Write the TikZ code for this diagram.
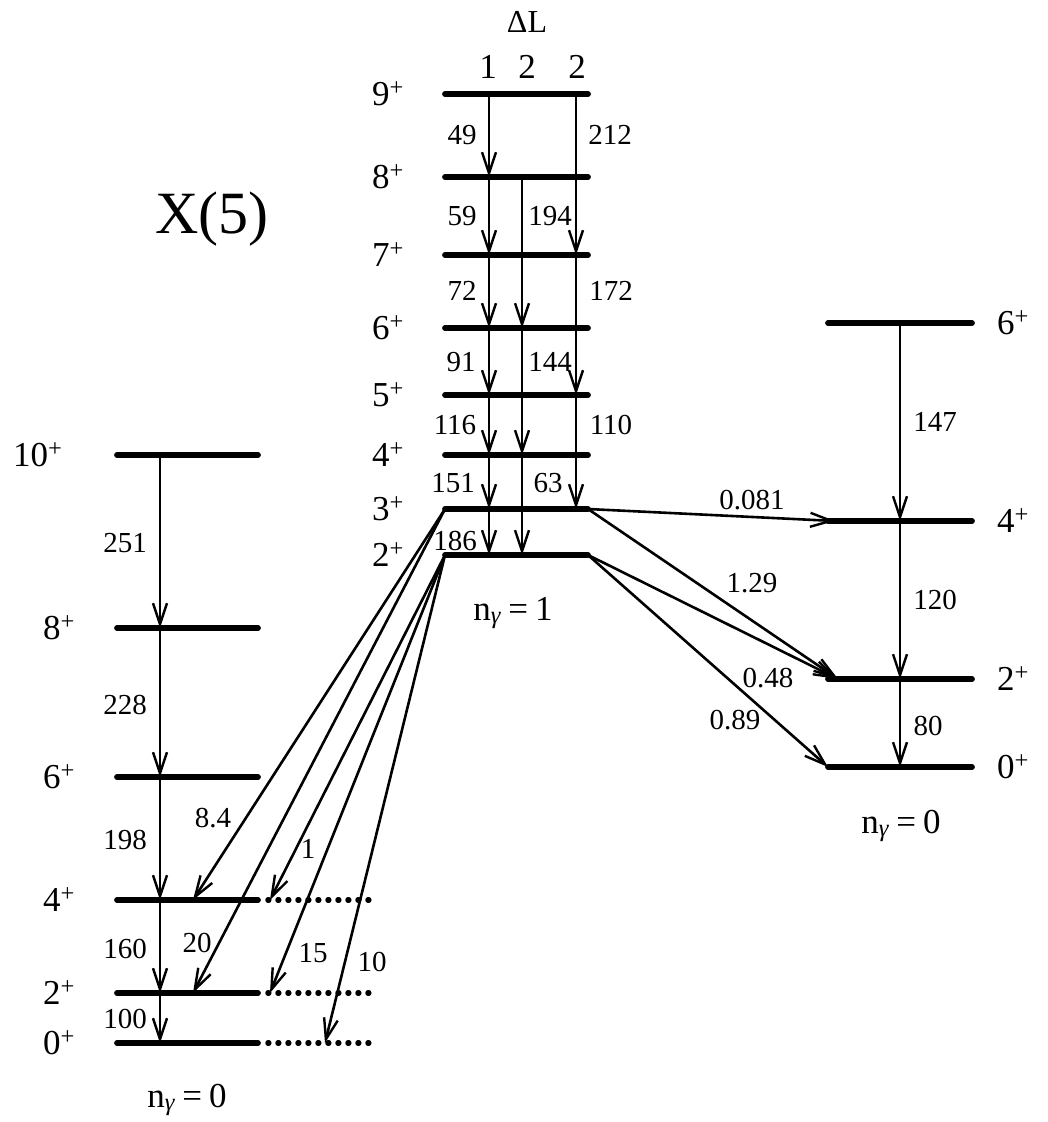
\documentclass[tikz,border=0pt]{standalone}
\usepackage{fontspec}
\setmainfont{Liberation Serif}
\usetikzlibrary{arrows.meta}
\begin{document}
\begin{tikzpicture}[x=1pt,y=-1pt,
  lev/.style={line width=5.8pt,line cap=round},
  dotlev/.style={line width=5.5pt,line cap=round,dash pattern=on 0.8pt off 9.2pt},
  tr/.style={line width=2.6pt,-{Straight Barb[length=21pt,width=14pt,line width=2.4pt]}},
  tl/.style={font=\fontsize{29}{31}\selectfont,inner sep=0pt},
  ll/.style={font=\fontsize{35}{37}\selectfont,inner sep=0pt,anchor=base west},
  big/.style={font=\fontsize{35}{37}\selectfont,inner sep=0pt,anchor=base}]
\useasboundingbox (0,0) rectangle (1048,1122);
% ---------- middle band (n_gamma = 1)
\foreach \n/\y in {9/94,8/177,7/255,6/328,5/395,4/455,3/509,2/555}{
  \coordinate (M\n l) at (445,\y);
  \coordinate (M\n r) at (588,\y);
  \draw[lev] (M\n l) -- (M\n r);
  \node[ll] (ML\n) at (372,\y+11) {\n\textsuperscript{+}};
}
\coordinate (C1) at (489,0);
\coordinate (C2) at (522,0);
\coordinate (C3) at (576,0);
\foreach \a/\b in {9/8,8/7,7/6,6/5,5/4,4/3,3/2}
  \draw[tr] (C1 |- M\a l) -- (C1 |- M\b l);
\foreach \a/\b in {8/6,6/4,4/2}
  \draw[tr] (C2 |- M\a l) -- (C2 |- M\b l);
\foreach \a/\b in {9/7,7/5,5/3}
  \draw[tr] (C3 |- M\a l) -- (C3 |- M\b l);
% transition energies
\foreach \t/\x/\y [count=\i] in {49/462/135,59/462/216,72/462/291,91/461/362,116/455/425,151/453/483,186/455/541,
  194/550/216,144/550/362,63/548/483,212/610/135,172/611/291,110/611/425}
  \node[tl] (Mt\i) at (\x,\y) {\t};
\node[font=\fontsize{32}{34}\selectfont,inner sep=0pt] (dL) at (527,22) {ΔL};
\node[font=\fontsize{35}{37}\selectfont,inner sep=0pt] (dL1) at (488,67) {1};
\node[font=\fontsize{35}{37}\selectfont,inner sep=0pt] (dL2) at (527,67) {2};
\node[font=\fontsize{35}{37}\selectfont,inner sep=0pt] (dL3) at (577,67) {2};
\node[big] (nmid) at (513,620) {n\textsubscript{\textit{γ}}\hspace{0.2em}=\hspace{0.2em}1};
% ---------- left band (ground, X(5))
\foreach \n/\y in {10/455,8/628,6/777,4/900,2/993,0/1043}{
  \coordinate (L\n l) at (117,\y);
  \coordinate (L\n r) at (258,\y);
  \draw[lev] (L\n l) -- (L\n r);
}
\foreach \n in {4,2,0}{
  \coordinate (D\n r) at (369,0);
  \draw[dotlev] (L\n r) ++(10,0) -- (D\n r |- L\n r);
}
\node[ll] (LL10) at (13,466) {10\textsuperscript{+}};
\foreach \n/\y in {8/628,6/777,4/900,2/993,0/1043}
  \node[ll] (LL\n) at (43,\y+11) {\n\textsuperscript{+}};
\coordinate (CL) at (160,0);
\foreach \a/\b in {10/8,8/6,6/4,4/2,2/0}
  \draw[tr] (CL |- L\a l) -- (CL |- L\b l);
\foreach \t/\x/\y [count=\i] in {251/125/543,228/125/705,198/125/840,160/125/949,100/125/1019}
  \node[tl] (Lt\i) at (\x,\y) {\t};
\node[font=\fontsize{60}{62}\selectfont,inner sep=0pt,anchor=base] (x5) at (212,233) {X(5)};
\node[big] (nleft) at (187,1107) {n\textsubscript{\textit{γ}}\hspace{0.2em}=\hspace{0.2em}0};
% ---------- right band (ground)
\foreach \n/\y in {6/323,4/521,2/679,0/767}{
  \coordinate (R\n l) at (828,\y);
  \coordinate (R\n r) at (972,\y);
  \draw[lev] (R\n l) -- (R\n r);
  \node[ll] (RL\n) at (997,\y+11) {\n\textsuperscript{+}};
}
\coordinate (CR) at (900,0);
\foreach \a/\b in {6/4,4/2,2/0}
  \draw[tr] (CR |- R\a l) -- (CR |- R\b l);
\node[tl] (Rt1) at (935,422) {147};
\node[tl] (Rt2) at (935,600) {120};
\node[tl] (Rt3) at (928,726) {80};
\node[big] (nright) at (901,833) {n\textsubscript{\textit{γ}}\hspace{0.2em}=\hspace{0.2em}0};
% ---------- interband transitions
\coordinate (T84) at (193,900);
\coordinate (T20) at (193,993);
\coordinate (T1) at (270,900);
\coordinate (T15) at (270,993);
\coordinate (T10) at (325,1043);
\draw[tr] (M3l) -- (T84);
\draw[tr] (M3l) -- (T20);
\draw[tr] (M2l) -- (T1);
\draw[tr] (M2l) -- (T15);
\draw[tr] (M2l) -- (T10);
\coordinate (Q4) at (835,521);
\coordinate (Q2) at (838,679);
\coordinate (Q0) at (828,767);
\draw[tr] (M3r) -- (Q4);
\draw[tr] (M3r) -- (Q2);
\draw[tr] (M2r) -- (Q2);
\draw[tr] (M2r) -- (Q0);
\node[tl] (Bt1) at (213,818) {8.4};
\node[tl] (Bt2) at (308,849) {1};
\node[tl] (Bt3) at (197,943) {20};
\node[tl] (Bt4) at (313,953) {15};
\node[tl] (Bt5) at (372,962) {10};
\node[tl] (Bt6) at (752,500) {0.081};
\node[tl] (Bt7) at (752,583) {1.29};
\node[tl] (Bt8) at (768,678) {0.48};
\node[tl] (Bt9) at (735,720) {0.89};
\end{tikzpicture}
\end{document}
